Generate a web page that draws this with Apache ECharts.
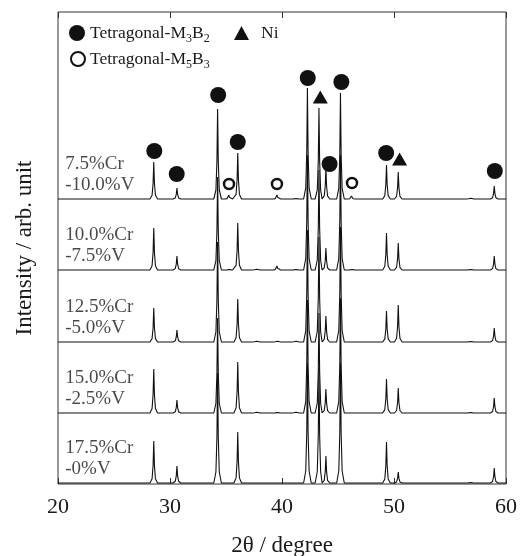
<!DOCTYPE html>
<html>
<head>
<meta charset="utf-8">
<script src="https://cdn.jsdelivr.net/npm/echarts@6/dist/echarts.min.js"></script>
<style>html,body{margin:0;padding:0;background:#fff}#c{width:523px;height:556px}</style>
</head>
<body>
<div id="c"></div>
<script>
// ---- data ----
const xTicks = [20, 30, 40, 50, 60];
const traceNames = ['7.5%Cr\n-10.0%V', '10.0%Cr\n-7.5%V', '12.5%Cr\n-5.0%V', '15.0%Cr\n-2.5%V', '17.5%Cr\n-0%V'];
// peak positions (2θ, degree)
const peakPos = [28.55, 30.62, 34.25, 35.25, 36.05, 37.7, 39.55, 41.2, 42.27, 43.3, 43.92, 45.22, 46.2, 49.33, 50.38, 56.8, 58.95];
// peak intensities (arb. unit) for each sample
const int75Cr  = [37, 11,  90, 4, 46, 0, 4, 1, 111,  91, 31, 106, 3, 34, 27, 2, 13];
const int100Cr = [42, 14,  93, 1, 47, 2, 4, 1, 115, 100, 22, 115, 1, 37, 27, 1, 14];
const int125Cr = [34, 12, 100, 0, 43, 2, 2, 2, 112, 105, 26, 115, 0, 31, 37, 1, 14];
const int150Cr = [44, 13,  95, 0, 51, 2, 1, 2, 113, 100, 24, 115, 0, 34, 25, 1, 15];
const int175Cr = [42, 17, 110, 0, 51, 0, 0, 0, 120, 115, 27, 120, 0, 41, 11, 1, 15];
// phase markers [2θ, height]
const m3b2Marks = [[28.6, 333], [30.6, 310], [34.3, 389], [36.05, 342], [42.3, 406], [44.25, 320], [45.3, 402], [49.3, 331], [59.0, 313]];
const niMarks = [[43.42, 387], [50.5, 325]];
const m5b3Marks = [[35.27, 300], [39.55, 300], [46.25, 301]];

// ---- layout / style ----
const traceOffsets = [285, 214, 142, 71, 1];
const peakShape = [[-0.34, 0], [-0.15, 0.1], [-0.06, 0.42], [0, 1], [0.06, 0.42], [0.15, 0.1], [0.34, 0]];
const serif = 'Liberation Serif';
const txt = '#1a1a1a';

function buildTrace(heights, off) {
  const pts = [[20, off]];
  peakPos.forEach((p, i) => {
    if (heights[i] <= 0) return;
    peakShape.forEach(([dx, f]) => pts.push([p + dx, off + heights[i] * f]));
  });
  pts.push([60, off]);
  pts.sort((a, b) => a[0] - b[0]);
  return pts;
}
const allInts = [int75Cr, int100Cr, int125Cr, int150Cr, int175Cr];

const chart = echarts.init(document.getElementById('c'), null, {renderer: 'canvas'});
const lineSeries = allInts.map((h, i) => ({
  type: 'line', name: 'trace' + i, data: buildTrace(h, traceOffsets[i]),
  symbol: 'none', lineStyle: {color: '#111', width: 1.1}, silent: true, z: 2
}));

const legendRich = {
  n: {fontSize: 17.5, fontFamily: serif, color: txt, lineHeight: 24},
  s: {fontSize: 12, fontFamily: serif, color: txt, lineHeight: 12, verticalAlign: 'bottom'},
  ni: {fontSize: 17.5, fontFamily: serif, color: txt, lineHeight: 24, padding: [0, 0, 0, 7]}
};
function legendFmt(name) {
  if (name === 'Tetragonal-M3B2') return '{n|Tetragonal-M}{s|3}{n|B}{s|2}';
  if (name === 'Tetragonal-M5B3') return '{n|Tetragonal-M}{s|5}{n|B}{s|3}';
  return '{ni|' + name + '}';
}

chart.setOption({
  animation: false,
  backgroundColor: '#fff',
  grid: {left: 58, right: 17, top: 12, bottom: 72, outerBoundsMode: 'none', containLabel: false,
    show: true, borderColor: '#333', borderWidth: 1},
  legend: [
    {data: ['Tetragonal-M3B2'], left: 64, top: 19, itemWidth: 16, itemHeight: 16, selectedMode: false, formatter: legendFmt, textStyle: {rich: legendRich}},
    {data: ['Ni'], left: 229, top: 19, itemWidth: 15, itemHeight: 14, selectedMode: false, formatter: legendFmt, textStyle: {rich: legendRich}},
    {data: ['Tetragonal-M5B3'], left: 65, top: 45, itemWidth: 14, itemHeight: 14, selectedMode: false, formatter: legendFmt, textStyle: {rich: legendRich}}
  ],
  xAxis: [
    {type: 'value', min: xTicks[0], max: xTicks[xTicks.length - 1], interval: 10, position: 'bottom',
     axisLine: {show: false}, splitLine: {show: false},
     axisTick: {inside: true, length: 6, lineStyle: {color: '#333'}},
     axisLabel: {fontSize: 22, fontFamily: serif, color: txt, margin: 12},
     name: '2θ / degree', nameLocation: 'middle', nameGap: 50,
     nameTextStyle: {fontSize: 23, fontFamily: serif, color: txt}},
    {type: 'value', min: xTicks[0], max: xTicks[xTicks.length - 1], interval: 10, position: 'top',
     axisLine: {show: false}, splitLine: {show: false},
     axisTick: {inside: true, length: 6, lineStyle: {color: '#333'}},
     axisLabel: {show: false}}
  ],
  yAxis: {type: 'value', min: 0, max: 472, axisLine: {show: false}, axisTick: {show: false},
    axisLabel: {show: false}, splitLine: {show: false},
    name: 'Intensity / arb. unit', nameLocation: 'middle', nameGap: 22,
    nameTextStyle: {fontSize: 23, fontFamily: serif, color: txt}},
  series: [
    ...lineSeries,
    {type: 'scatter', name: 'Tetragonal-M3B2', data: m3b2Marks, symbol: 'circle', symbolSize: 16,
     itemStyle: {color: '#111', opacity: 1}, z: 5},
    {type: 'scatter', name: 'Ni', data: niMarks, symbol: 'triangle', symbolSize: [15, 13],
     itemStyle: {color: '#111', opacity: 1}, z: 5},
    {type: 'scatter', name: 'Tetragonal-M5B3', data: m5b3Marks, symbol: 'circle', symbolSize: 10,
     itemStyle: {color: '#fff', borderColor: '#111', borderWidth: 2.5, opacity: 1}, z: 5},
    {type: 'scatter', name: 'labels', symbolSize: 0, silent: true, z: 6,
     data: traceNames.map((n, i) => ({value: [20.65, traceOffsets[i] + 24], name: n})),
     label: {show: true, position: 'right', distance: 0, formatter: '{b}',
       fontSize: 19, lineHeight: 21, fontFamily: serif, color: txt}}
  ]
});
</script>
</body>
</html>
